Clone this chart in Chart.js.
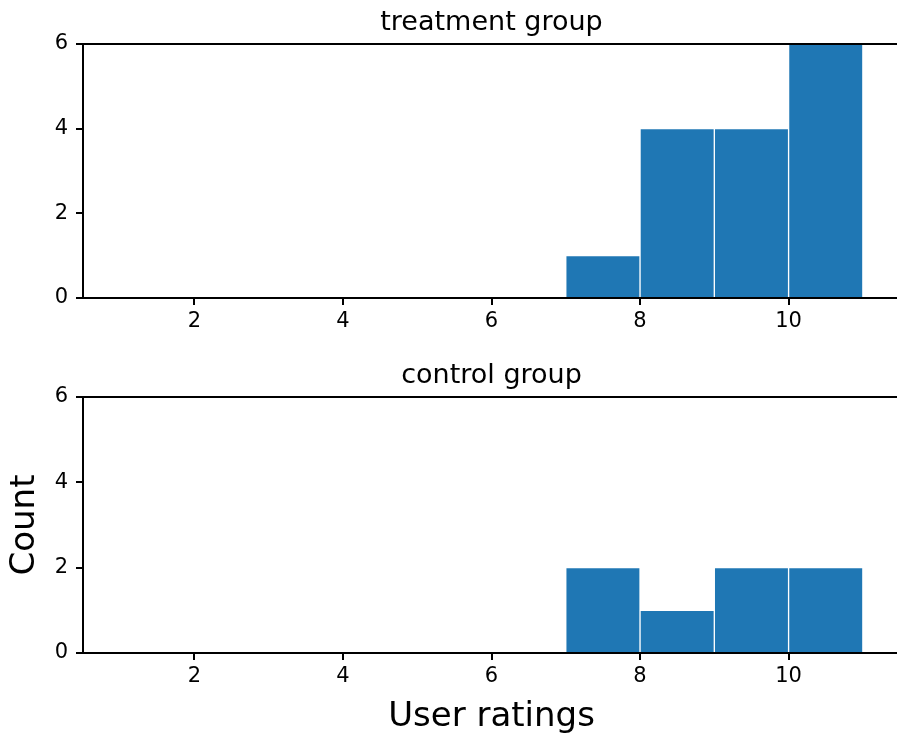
<!DOCTYPE html>
<html>
<head>
<meta charset="utf-8">
<script src="https://cdn.jsdelivr.net/npm/chart.js@4.4.1/dist/chart.umd.min.js"></script>
<style>
    html, body { margin: 0; padding: 0; background: #fff; }
    #wrap { position: relative; width: 897px; height: 734px; overflow: hidden; background: #fff; }
    canvas { position: absolute; left: 0; }
    #treatment-chart { top: 0; }
    #control-chart { top: 353px; }
</style>
</head>
<body>
<div id="wrap">
    <canvas id="treatment-chart" width="920" height="340"></canvas>
    <canvas id="control-chart" width="920" height="385"></canvas>
</div>
<script>
// Histogram data (bin edges shared by both groups)
const binEdges = [7, 8, 9, 10, 11];
const treatmentCounts = [1, 4, 4, 6];
const controlCounts = [2, 1, 2, 2];
const xTicks = [2, 4, 6, 8, 10];
const yTicks = [0, 2, 4, 6];

const FONT = "'DejaVu Sans', sans-serif";
const BAR_COLOR = '#1f77b4';

// bins -> {x: center, y: count}
function toBars(counts) {
    return counts.map((c, i) => ({ x: (binEdges[i] + binEdges[i + 1]) / 2, y: c }));
}

// top + right spines (Chart.js only draws the axis borders)
const spinesPlugin = {
    id: 'spines',
    afterDraw(chart) {
        const { ctx, chartArea } = chart;
        ctx.save();
        ctx.strokeStyle = '#000';
        ctx.lineWidth = 2;
        ctx.beginPath();
        ctx.moveTo(chartArea.left - 1, chartArea.top);
        ctx.lineTo(chartArea.right, chartArea.top);
        ctx.lineTo(chartArea.right, chartArea.bottom);
        ctx.stroke();
        ctx.restore();
    }
};

function makeChart(canvasId, title, counts, opts) {
    const ctx = document.getElementById(canvasId).getContext('2d');
    return new Chart(ctx, {
        type: 'bar',
        data: {
            datasets: [{
                data: toBars(counts),
                backgroundColor: BAR_COLOR,
                borderColor: '#ffffff',
                borderWidth: 1,
                borderSkipped: 'bottom',
                barPercentage: 1,
                categoryPercentage: 1
            }]
        },
        plugins: [spinesPlugin],
        options: {
            responsive: false,
            animation: false,
            events: [],
            layout: { padding: { left: 0, right: 20, top: 0, bottom: 0 } },
            plugins: {
                legend: { display: false },
                tooltip: { enabled: false },
                title: {
                    display: true,
                    text: title,
                    fullSize: false,
                    color: '#000',
                    font: { family: FONT, size: 27, weight: 'normal', lineHeight: 1.2 },
                    padding: { top: 7, bottom: 4.6 }
                }
            },
            scales: {
                x: {
                    type: 'linear',
                    offset: false,
                    min: 0.5,
                    max: 11.5,
                    afterBuildTicks: (scale) => { scale.ticks = xTicks.map(v => ({ value: v })); },
                    afterFit: (scale) => { scale.height = opts.xHeight; },
                    grid: { offset: false, drawOnChartArea: false, drawTicks: true, tickLength: 7, color: '#000', lineWidth: 2 },
                    border: { display: true, color: '#000', width: 2 },
                    ticks: { color: '#000', font: { family: FONT, size: 21 }, padding: 4, maxRotation: 0 },
                    title: {
                        display: !!opts.xTitle,
                        text: opts.xTitle || '',
                        color: '#000',
                        font: { family: FONT, size: 34, weight: 'normal', lineHeight: 1.2 },
                        padding: { top: 0, bottom: 0 }
                    }
                },
                y: {
                    min: 0,
                    max: 6,
                    afterBuildTicks: (scale) => { scale.ticks = yTicks.map(v => ({ value: v })); },
                    afterFit: (scale) => { scale.width = 83; },
                    grid: { drawOnChartArea: false, drawTicks: true, tickLength: 7, color: '#000', lineWidth: 2 },
                    border: { display: true, color: '#000', width: 2 },
                    ticks: { color: '#000', font: { family: FONT, size: 21 }, padding: 8 },
                    title: {
                        display: !!opts.yTitle,
                        text: opts.yTitle || '',
                        color: '#000',
                        font: { family: FONT, size: 34, weight: 'normal', lineHeight: 1.2 },
                        padding: { top: 5, bottom: 0 }
                    }
                }
            }
        }
    });
}

makeChart('treatment-chart', 'treatment group', treatmentCounts, { xHeight: 42 });
makeChart('control-chart', 'control group', controlCounts, { xHeight: 85, xTitle: 'User ratings', yTitle: 'Count' });
</script>
</body>
</html>
